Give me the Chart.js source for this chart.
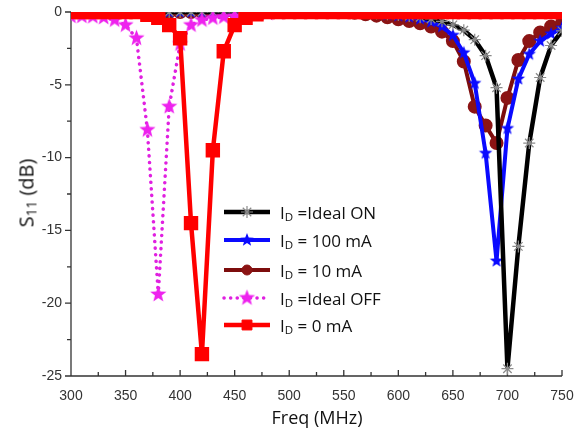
<!DOCTYPE html>
<html lang="en">
<head>
<meta charset="UTF-8">
<script src="https://cdn.jsdelivr.net/npm/chart.js"></script>
<title>S11 vs Freq</title>
<style>
  body { margin: 0; background: #fff; }
  #wrap { position: relative; width: 576px; height: 435px; }
  .ttl { position: absolute; font-family: "Open Sans"; color: #111; white-space: nowrap; transform: translate(-50%, -50%); }
  #ytitle { left: 26px; top: 193px; font-size: 20px; transform: translate(-50%, -50%) rotate(-90deg); }
  #xtitle { left: 317px; top: 417px; font-size: 18px; }
  .row { position: absolute; left: 222px; height: 24px; display: flex; align-items: center; white-space: nowrap;
         font-family: "Open Sans"; font-size: 17px; color: #111; }
  .row canvas { margin-right: 10px; }
  sub { font-size: 0.68em; vertical-align: -0.2em; line-height: 0; }
</style>
</head>
<body>
<div id="wrap">
  <canvas id="myChart" width="576" height="435"></canvas>
  <div class="ttl" id="ytitle">S<sub>11</sub> (dB)</div>
  <div class="ttl" id="xtitle">Freq (MHz)</div>
  <div id="legend"></div>
</div>
<script>
// frequency grid (MHz)
var freq = [300, 310, 320, 330, 340, 350, 360, 370, 380, 390,
            400, 410, 420, 430, 440, 450, 460, 470, 480, 490,
            500, 510, 520, 530, 540, 550, 560, 570, 580, 590,
            600, 610, 620, 630, 640, 650, 660, 670, 680, 690,
            700, 710, 720, 730, 740, 750]

// S11 (dB) for each case
var idealOn = [0, 0, 0, 0, 0, 0, 0, 0, 0, 0,
               0, 0, 0, 0, 0, 0, 0, 0, 0, 0,
               0, 0, 0, 0, 0, 0, -0.03, -0.06, -0.1, -0.15,
               -0.2, -0.28, -0.36, -0.48, -0.64, -0.88, -1.25, -1.9, -3.0, -5.2,
               -24.5, -16.1, -9.0, -4.5, -2.3, -1.3]
var ma100 = [0, 0, 0, 0, 0, 0, 0, 0, 0, 0,
             0, 0, 0, 0, 0, 0, 0, 0, 0, 0,
             0, 0, 0, 0, 0, 0, 0, -0.05, -0.1, -0.18,
             -0.26, -0.35, -0.48, -0.68, -1.0, -1.6, -2.8, -4.9, -9.7, -17.1,
             -8.0, -4.6, -2.9, -2.0, -1.5, -1.1]
var ma10 = [0, 0, 0, 0, 0, 0, 0, 0, 0, 0,
            0, 0, 0, 0, 0, 0, 0, 0, 0, 0,
            0, 0, 0, 0, 0, 0, -0.05, -0.15, -0.25, -0.36,
            -0.5, -0.62, -0.78, -1.0, -1.35, -2.0, -3.4, -6.5, -7.8, -9.0,
            -5.9, -3.3, -2.0, -1.4, -1.0, -0.75]
var idealOff = [-0.3, -0.3, -0.32, -0.38, -0.55, -0.9, -1.8, -8.1, -19.4, -6.5,
                -2.2, -0.9, -0.55, -0.42, -0.35, -0.3, -0.25, -0.15, -0.1, -0.05,
                0, 0, 0, 0, 0, 0, 0, 0, 0, 0,
                0, 0, 0, 0, 0, 0, 0, 0, 0, 0,
                0, 0, 0, 0, 0, 0]
var ma0 = [0, 0, 0, 0, 0, 0, 0, -0.2, -0.4, -0.9,
           -1.8, -14.5, -23.5, -9.5, -2.7, -0.9, -0.4, -0.15, 0, 0,
           0, 0, 0, 0, 0, 0, 0, 0, 0, 0,
           0, 0, 0, 0, 0, 0, 0, 0, 0, 0,
           0, 0, 0, 0, 0, 0]

var xTicks = [300, 350, 400, 450, 500, 550, 600, 650, 700, 750]
var yTicks = [0, -5, -10, -15, -20, -25]

// 5 point star used as marker
function makeStar(color, r) {
    var c = document.createElement('canvas')
    c.width = c.height = Math.ceil(r * 2 + 2)
    var g = c.getContext('2d')
    var cx = c.width / 2, cy = c.height / 2
    g.beginPath()
    for (var i = 0; i < 10; i++) {
        var rr = i % 2 === 0 ? r : r * 0.42
        var a = -Math.PI / 2 + i * Math.PI / 5
        g.lineTo(cx + rr * Math.cos(a), cy + rr * Math.sin(a))
    }
    g.closePath()
    g.fillStyle = color
    g.fill()
    return c
}

var pts = (arr) => freq.map((f, i) => ({ x: f, y: arr[i] }))

var series = [
    { label: 'ON', data: pts(idealOn), borderColor: '#000', borderWidth: 4.5, pointStyle: 'star',
      pointRadius: 6, pointBorderColor: '#8a8a8a', pointBackgroundColor: '#8a8a8a', pointBorderWidth: 1.2, order: 3, text: 'I<sub>D</sub> =Ideal ON' },
    { label: '100', data: pts(ma100), borderColor: '#0a0aff', borderWidth: 4, pointStyle: makeStar('#0a0aff', 7),
      pointRadius: 7, order: 4, text: 'I<sub>D</sub> = 100 mA' },
    { label: '10', data: pts(ma10), borderColor: '#7d0d0d', borderWidth: 4, pointStyle: 'circle',
      pointRadius: 5, pointBackgroundColor: '#8b1414', pointBorderColor: '#8b1414', order: 5, text: 'I<sub>D</sub> = 10 mA' },
    { label: 'OFF', data: pts(idealOff), borderColor: '#e020e0', borderWidth: 3.5, borderDash: [0.1, 6.5], borderCapStyle: 'round',
      pointStyle: makeStar('#ee22ee', 8.5), pointRadius: 8, order: 2, text: 'I<sub>D</sub> =Ideal OFF' },
    { label: '0', data: pts(ma0), borderColor: '#ff0000', borderWidth: 4.5, pointStyle: 'rect',
      pointRadius: 7, pointBackgroundColor: '#ff0000', pointBorderColor: '#ff0000', order: 1, text: 'I<sub>D</sub> = 0 mA' }
]

// axis lines + ticks (y ticks outward, x ticks inward)
var axesPlugin = {
    id: 'axes',
    beforeDatasetsDraw(chart) {
        var ctx = chart.ctx, a = chart.chartArea, x = chart.scales.x, y = chart.scales.y
        ctx.save()
        ctx.strokeStyle = '#333'
        ctx.lineWidth = 1.3
        ctx.beginPath()
        ctx.moveTo(a.left, a.top)
        ctx.lineTo(a.left, a.bottom)
        ctx.lineTo(a.right, a.bottom)
        for (var v = 300; v <= 750; v += 25) {
            var px = x.getPixelForValue(v)
            ctx.moveTo(px, a.bottom)
            ctx.lineTo(px, a.bottom - (v % 50 === 0 ? 6 : 4))
        }
        for (var w = -25; w <= 0; w += 2.5) {
            var py = y.getPixelForValue(w)
            ctx.moveTo(a.left, py)
            ctx.lineTo(a.left - (w % 5 === 0 ? 6 : 4), py)
        }
        ctx.stroke()
        ctx.restore()
    }
}

var tickFont = { family: 'Liberation Sans', size: 14 }

var myChart = new Chart(document.getElementById('myChart'), {
    type: 'line',
    data: {
        datasets: series.map(s => Object.assign({ fill: false, tension: 0, clip: 0 }, s))
    },
    options: {
        responsive: false,
        animation: false,
        layout: { padding: { top: 12, right: 14, left: 0, bottom: 0 } },
        plugins: { legend: { display: false }, tooltip: { enabled: false } },
        scales: {
            x: {
                type: 'linear', min: 300, max: 750,
                grid: { display: false, drawTicks: false }, border: { display: false },
                afterBuildTicks: s => { s.ticks = xTicks.map(v => ({ value: v })) },
                afterFit: s => { s.height = 59; s.paddingLeft = 0; s.paddingRight = 0 },
                ticks: { font: tickFont, color: '#333', padding: 12, maxRotation: 0, autoSkip: false }
            },
            y: {
                min: -25, max: 0,
                grid: { display: false, drawTicks: false }, border: { display: false },
                afterBuildTicks: s => { s.ticks = yTicks.map(v => ({ value: v })) },
                afterFit: s => { s.width = 71; s.paddingTop = 0; s.paddingBottom = 0 },
                ticks: { font: tickFont, color: '#333', padding: 9 }
            }
        }
    },
    plugins: [axesPlugin]
});

// legend with subscript text
var rowsY = [212, 240, 270, 298, 325]
var legend = document.getElementById('legend')
series.forEach(function (s, i) {
    var row = document.createElement('div')
    row.className = 'row'
    row.style.top = (rowsY[i] - 12) + 'px'
    var c = document.createElement('canvas')
    c.width = 48; c.height = 24
    var g = c.getContext('2d')
    g.strokeStyle = s.borderColor
    g.lineWidth = s.borderWidth
    g.lineCap = s.borderCapStyle || 'butt'
    g.setLineDash(s.borderDash || [])
    g.beginPath(); g.moveTo(2, 12); g.lineTo(48, 12); g.stroke()
    g.setLineDash([])
    g.fillStyle = s.pointBackgroundColor || s.borderColor
    g.strokeStyle = s.pointBorderColor || s.borderColor
    g.lineWidth = s.pointBorderWidth || 1
    Chart.helpers.drawPoint(g, { pointStyle: s.pointStyle, radius: s.pointRadius, rotation: 0, borderWidth: g.lineWidth }, 25, 12)
    row.appendChild(c)
    var t = document.createElement('span')
    t.innerHTML = s.text
    row.appendChild(t)
    legend.appendChild(row)
})
</script>
</body>
</html>
